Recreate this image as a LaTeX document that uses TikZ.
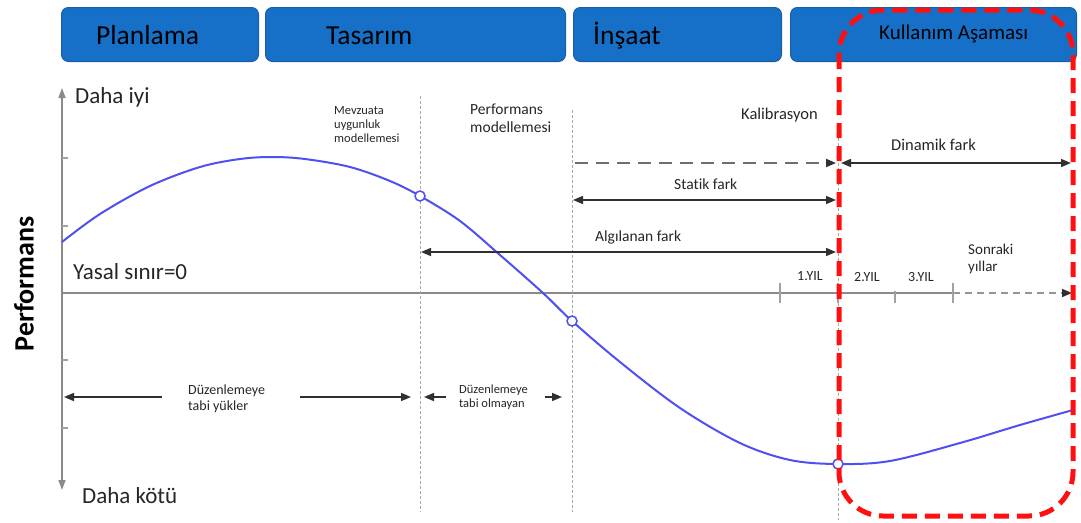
\documentclass[tikz,border=0pt]{standalone}
\usepackage{fontspec}
\setmainfont{Carlito}[Ligatures=NoCommon]
\usetikzlibrary{arrows.meta}
\definecolor{phaseblue}{HTML}{1770C8}
\definecolor{phaseedge}{HTML}{1A5FA6}
\definecolor{curveblue}{HTML}{5050F2}
\definecolor{redbox}{HTML}{FF1010}
\definecolor{axisgray}{HTML}{8A8A8A}
\definecolor{guidegray}{HTML}{A8A8A8}
\definecolor{arrowdark}{HTML}{303030}
\newcommand{\fsz}[1]{\fontsize{#1pt}{1.2\dimexpr #1pt\relax}\selectfont}
\begin{document}
\begin{tikzpicture}[x=1pt,y=-1pt,
  phase/.style={draw=phaseedge, fill=phaseblue, rounded corners=7pt, line width=1pt,
    minimum height=54pt, inner sep=0pt, anchor=north west},
  phasetext/.style={anchor=base west, inner sep=0pt, font=\fsz{27.5}},
  lbl/.style={anchor=base west, inner sep=0pt, font=\fsz{15.5}, text=black!85},
  small/.style={anchor=north west, inner sep=0pt, align=left, font=\fsz{12.5}, text=black!85},
  guide/.style={draw=guidegray, line width=1pt, dash pattern=on 3pt off 2pt},
  axisline/.style={draw=axisgray, line width=1.6pt},
  tick/.style={draw=axisgray!80, line width=1.2pt},
  dimarrow/.style={draw=arrowdark, line width=1.5pt, -{Triangle[length=10pt,width=8pt]}},
  dimboth/.style={draw=arrowdark, line width=1.5pt, {Triangle[length=10pt,width=8pt]}-{Triangle[length=10pt,width=8pt]}},
  marker/.style={circle, draw=curveblue, fill=white, line width=1.5pt, minimum size=10pt, inner sep=0pt},
  curve/.style={draw=curveblue, line width=2pt},
  usephase/.style={draw=redbox, line width=5pt, dash pattern=on 15pt off 8pt, rounded corners=44pt}
]
\useasboundingbox (0,0) rectangle (1081,522);

% phase boxes
\node[phase, minimum width=197pt] (p1) at (61,7) {};
\node[phase, minimum width=300pt] (p2) at (265,7) {};
\node[phase, minimum width=208pt] (p3) at (573,7) {};
\node[phase, minimum width=286pt] (p4) at (790,7) {};
\node[phasetext] (t1) at (96,44) {Planlama};
\node[phasetext] (t2) at (326,44) {Tasarım};
\node[phasetext] (t3) at (593,44) {İnşaat};
\node[phasetext, font=\fsz{21}] (t4) at (879,39) {Kullanım Aşaması};

% vertical axis
\coordinate (ytop) at (62,88);
\coordinate (ybot) at (62,490);
\draw[draw=axisgray, line width=1.5pt, {Triangle[length=10pt,width=7pt]}-{Triangle[length=10pt,width=7pt]}] (ytop) -- (ybot);
\foreach \yy in {158,226,360,428} \draw[tick] (62,\yy) -- (68,\yy);
\node[anchor=base west, inner sep=0pt, font=\fsz{23}, text=black!85] (better) at (75,103) {Daha iyi};
\node[anchor=base west, inner sep=0pt, font=\fsz{23}, text=black!85] (worse) at (82,503) {Daha kötü};
\node[rotate=90, inner sep=0pt, font=\bfseries\fsz{28}] (perf) at (24,284) {Performans};

% horizontal axis
\coordinate (x0) at (62,293);
\coordinate (x1) at (953,293);
\coordinate (x2) at (1072,293);
\draw[axisline] (x0) -- (x1);
\draw[draw=axisgray!90, line width=1.6pt, dash pattern=on 7pt off 5pt, -{Triangle[length=10pt,width=8pt,color=arrowdark]}] (x1) -- (x2);
\draw[tick] (780,283) -- (780,303);
\draw[tick] (838,283) -- (838,303);
\draw[tick] (895,291) -- (895,303);
\draw[tick] (953,283) -- (953,303);
\node[anchor=base west, inner sep=0pt, font=\fsz{23}, text=black!85] (yasal) at (73,279) {Yasal sınır=0};

% guides
\coordinate (g1t) at (420,96);  \coordinate (g1b) at (420,512);
\coordinate (g2t) at (572,110); \coordinate (g2b) at (572,512);
\coordinate (g3t) at (838,128); \coordinate (g3b) at (838,520);
\draw[guide] (g1t) -- (g1b);
\draw[guide] (g2t) -- (g2b);
\draw[guide] (g3t) -- (g3b);

% labels at top
\node[small] (mevz) at (334,106) {Mevzuata\\[-1pt]uygunluk\\[-1pt]modellemesi};
\node[small, font=\fsz{15.5}] (permod) at (470,104) {Performans\\[-1pt]modellemesi};
\node[lbl, font=\fsz{16.5}] (kal) at (741,119) {Kalibrasyon};

% curve
\draw[curve] plot[smooth, tension=0.55] coordinates {(62,242) (100,214) (150,186) (200,167) (240,159) (272,157) (305,159) (350,167) (390,181) (420,196) (460,221) (500,255) (543,293) (572,321) (620,362) (680,408) (740,443) (790,460) (838,464) (890,461) (960,443) (1020,425) (1073,410)};
\node[marker] (m1) at (420,196) {};
\node[marker] (m2) at (572,321) {};
\node[marker] (m3) at (838,464) {};

% difference arrows
\coordinate (kalL) at (575,163);
\coordinate (kalR) at (836,163);
\coordinate (dinL) at (841,163);
\coordinate (dinR) at (1071,163);
\draw[draw=axisgray!80!black, line width=1.8pt, dash pattern=on 13pt off 8pt, -{Triangle[length=10pt,width=8pt,color=arrowdark]}] (kalL) -- (kalR);
\draw[dimboth] (dinL) -- (dinR);
\node[lbl, font=\fsz{16.5}] (dinlbl) at (891,150) {Dinamik fark};

\coordinate (statL) at (573,200);
\coordinate (statR) at (836,200);
\draw[dimboth] (statL) -- (statR);
\node[lbl] (statlbl) at (674,189) {Statik fark};

\coordinate (algL) at (421,252);
\coordinate (algR) at (836,252);
\draw[dimboth] (algL) -- (algR);
\node[lbl] (alglbl) at (595,241) {Algılanan fark};

% year labels
\node[lbl, font=\fsz{14}] (y1) at (797,280) {1.YIL};
\node[lbl, font=\fsz{14}] (y2) at (854,281) {2.YIL};
\node[lbl, font=\fsz{14}] (y3) at (908,281) {3.YIL};
\node[small, font=\fsz{15}] (sonr) at (968,244) {Sonraki\\[-1pt]yıllar};

% regulation arrows
\node[small, font=\fsz{14}] (duz1) at (188,385) {Düzenlemeye\\[-1pt]tabi yükler};
\coordinate (d1a) at (64,397); \coordinate (d1b) at (162,397);
\coordinate (d1c) at (300,397); \coordinate (d1d) at (411,397);
\draw[dimarrow] (d1b) -- (d1a);
\draw[dimarrow] (d1c) -- (d1d);

\node[small, font=\fsz{12.5}] (duz2) at (459,385) {Düzenlemeye\\[-1pt]tabi olmayan};
\coordinate (d2a) at (424,397); \coordinate (d2b) at (446,397);
\coordinate (d2c) at (545,397); \coordinate (d2d) at (562,397);
\draw[dimarrow] (d2b) -- (d2a);
\draw[dimarrow] (d2c) -- (d2d);

% use-phase highlight
\draw[usephase] (839,10) rectangle (1073,516);
\end{tikzpicture}
\end{document}
